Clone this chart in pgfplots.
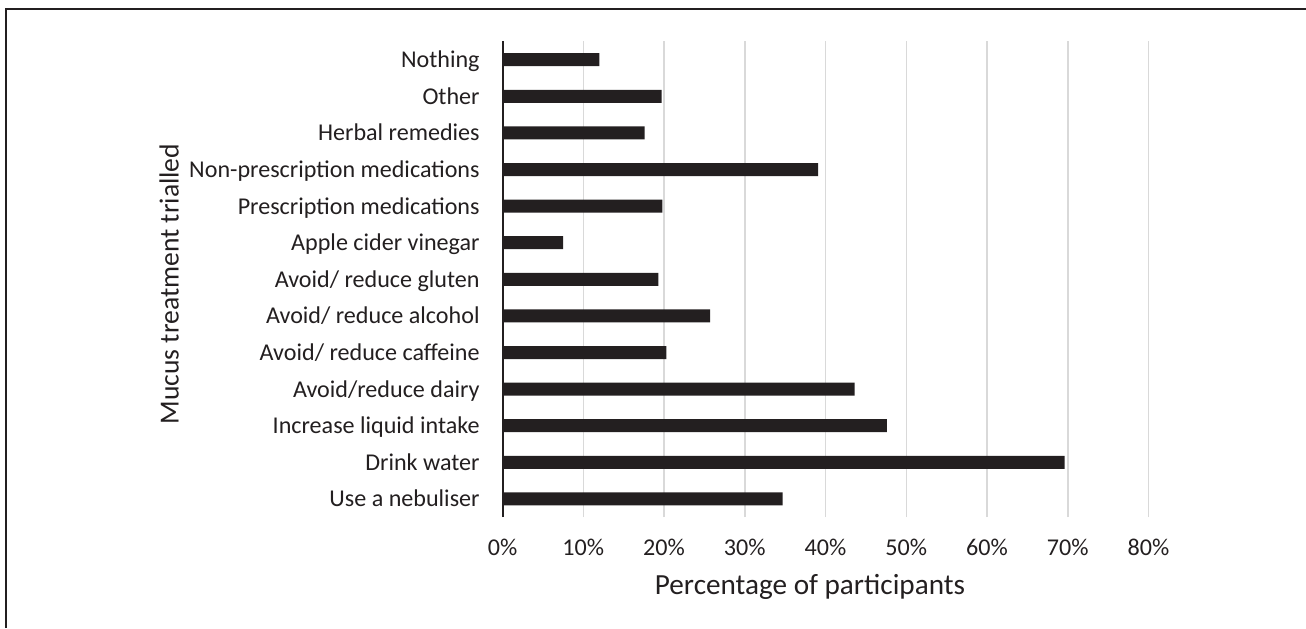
\documentclass[border=0pt]{standalone}
\usepackage{pgfplots}
\pgfplotsset{compat=1.18}
\usepackage{fontspec}
\setmainfont{Carlito}
\definecolor{barc}{HTML}{231F20}
\definecolor{gridc}{HTML}{D9D9D9}
\begin{document}
\begin{tikzpicture}
\path[use as bounding box] (0,0) rectangle (653pt,-314pt);
\draw[barc, line width=1pt] (2.75pt,-314pt) -- (2.75pt,-4.25pt) -- (653pt,-4.25pt);
\begin{axis}[
  at={(251.25pt,-20.7pt)}, anchor=north west,
  width=323pt, height=237.9pt, scale only axis,
  xmin=0, xmax=80, ymin=-0.5, ymax=12.5,
  xbar, bar width=6.5pt,
  xtick={0,10,...,80},
  xticklabel={\pgfmathprintnumber{\tick}\%},
  /pgf/number format/assume math mode=true,
  ytick={0,...,12},
  yticklabels={Use a nebuliser, Drink water, Increase liquid intake, Avoid/reduce dairy, {Avoid/ reduce caffeine\ }, {Avoid/ reduce alcohol\ }, Avoid/ reduce gluten, {Apple cider vinegar\ }, Prescription medications, Non-prescription medications, {Herbal remedies\ }, {Other\ }, Nothing},
  tick style={draw=none},
  major tick length=0pt,
  xmajorgrids, grid style={gridc, line width=0.75pt},
  axis x line*=bottom, axis y line*=left,
  x axis line style={draw=none},
  y axis line style={barc, line width=1pt, -},
  ticklabel style={font=\fontsize{12.05}{14}\selectfont, text=barc, inner sep=0pt},
  xticklabel style={anchor=base, yshift=-19.35pt},
  yticklabel style={anchor=base east, xshift=-11.25pt, yshift=-4pt},
  xlabel={Percentage of participants},
  ylabel={Mucus treatment trialled},
  label style={font=\fontsize{14.6}{17}\selectfont, text=barc, inner sep=0pt},
  xlabel style={at={(axis description cs:0.476,0)}, anchor=base, yshift=-38.85pt},
  ylabel style={font=\fontsize{13.8}{16}\selectfont, at={(axis description cs:-0.516,0.49)}, anchor=center, rotate=0},
]
\addplot[fill=barc, draw=none] coordinates {
(34.7,0) (69.6,1) (47.6,2) (43.6,3) (20.3,4) (25.7,5) (19.3,6) (7.5,7) (19.8,8) (39.1,9) (17.6,10) (19.7,11) (12.0,12)
};
\end{axis}
\end{tikzpicture}
\end{document}
